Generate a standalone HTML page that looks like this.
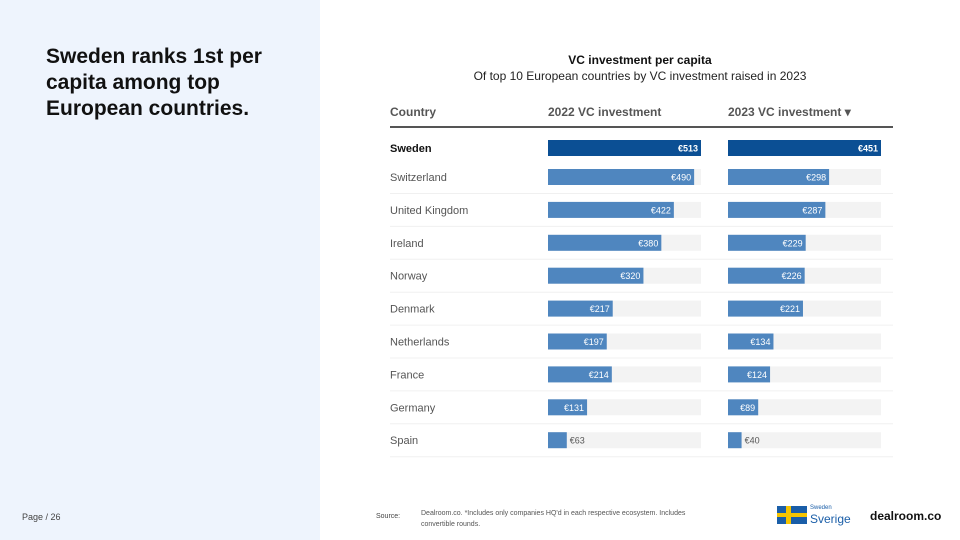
<!DOCTYPE html>
<html><head><meta charset="utf-8"><style>
body{margin:0;width:960px;height:540px;overflow:hidden;background:#fff;font-family:"Liberation Sans",sans-serif;position:relative}
#left{position:absolute;left:0;top:0;width:320px;height:540px;background:#eef4fd}
#title{position:absolute;left:46px;top:44px;font-size:21px;font-weight:bold;line-height:26px;color:#111;width:260px}
.t{position:absolute;white-space:nowrap}
</style></head><body>
<div id="left"></div>
<div id="title">Sweden ranks 1st per capita among top European countries.</div>
<div class="t" style="left:22px;top:512px;font-size:9px;color:#444">Page / 26</div>
<div class="t" style="left:0;width:1280px;top:53px;font-size:12px;font-weight:bold;color:#111;text-align:center">VC investment per capita</div>
<div class="t" style="left:0;width:1280px;top:69px;font-size:12px;color:#222;text-align:center">Of top 10 European countries by VC investment raised in 2023</div>
<svg id="chart" width="960" height="540" style="position:absolute;left:0;top:0"></svg>
<div class="t" style="left:376px;top:513px;font-size:7px;color:#444">Source:</div>
<div class="t" style="left:421px;top:508px;font-size:7px;color:#555;line-height:11px">Dealroom.co. *Includes only companies HQ'd in each respective ecosystem. Includes<br>convertible rounds.</div>
<div style="position:absolute;left:777px;top:506px;width:30px;height:18px;background:#1a5ea8">
<div style="position:absolute;left:9px;top:0;width:5px;height:18px;background:#f5c400"></div>
<div style="position:absolute;left:0;top:7px;width:30px;height:4px;background:#f5c400"></div></div>
<div class="t" style="left:810px;top:505px;font-size:6px;color:#1a5ea8">Sweden</div>
<div class="t" style="left:810px;top:512px;font-size:12px;color:#1a5ea8">Sverige</div>
<div class="t" style="left:870px;top:509px;font-size:12px;font-weight:bold;color:#111">dealroom.co</div>
<script>
const countries=["Sweden","Switzerland","United Kingdom","Ireland","Norway","Denmark","Netherlands","France","Germany","Spain"];
const v2022=[513,490,422,380,320,217,197,214,131,63];
const v2023=[451,298,287,229,226,221,134,124,89,40];
const headers=["Country","2022 VC investment","2023 VC investment"];
const svg=document.getElementById('chart');const NS="http://www.w3.org/2000/svg";
function mk(t,a,txt){const e=document.createElementNS(NS,t);for(const k in a)e.setAttribute(k,a[k]);if(txt!=null)e.textContent=txt;svg.appendChild(e);return e;}
const cols=[548,728],trackW=153;
const max22=Math.max(...v2022),max23=Math.max(...v2023);
const sx=[v=>v/max22*trackW,v=>v/max23*trackW];
const rowY=i=>i===0?148:177+(i-1)*32.9;
let h=mk('text',{x:390,y:116,'font-size':12,'font-weight':'bold',fill:'#555'},headers[0]);

h=mk('text',{x:548,y:116,'font-size':12,'font-weight':'bold',fill:'#555'},headers[1]);

h=mk('text',{x:728,y:116,'font-size':12,'font-weight':'bold',fill:'#555'},headers[2]+" ▾");

let ln=mk('rect',{x:390,y:126,width:503,height:2,fill:'#555'});

countries.forEach((c,i)=>{
 const y=rowY(i);const sw=i===0;
 if(i>0){const s=mk('line',{x1:390,x2:893,y1:y+16.5,y2:y+16.5,stroke:'#f0f0f0'});
 }
 const t=mk('text',{x:390,y:y+4,'font-size':11,fill:sw?'#111':'#555','font-weight':sw?'bold':'normal'},c);
 
 [v2022[i],v2023[i]].forEach((v,k)=>{
  const x0=cols[k];
  const tr=mk('rect',{x:x0,y:y-8,width:trackW,height:16,fill:'#f3f3f3'});
  
  const w=sx[k](v);
  const b=mk('rect',{x:x0,y:y-8,width:w,height:16,fill:sw?'#0b4f94':'#4f86bf'});
  
  const inside=w>30;
  const lb=mk('text',{x:inside?x0+w-3:x0+w+3,y:y+3.5,'font-size':9,'text-anchor':inside?'end':'start',fill:inside?'#fff':'#555','font-weight':sw?'bold':'normal'},'€'+v);
  
 });
});
</script>
</body></html>
